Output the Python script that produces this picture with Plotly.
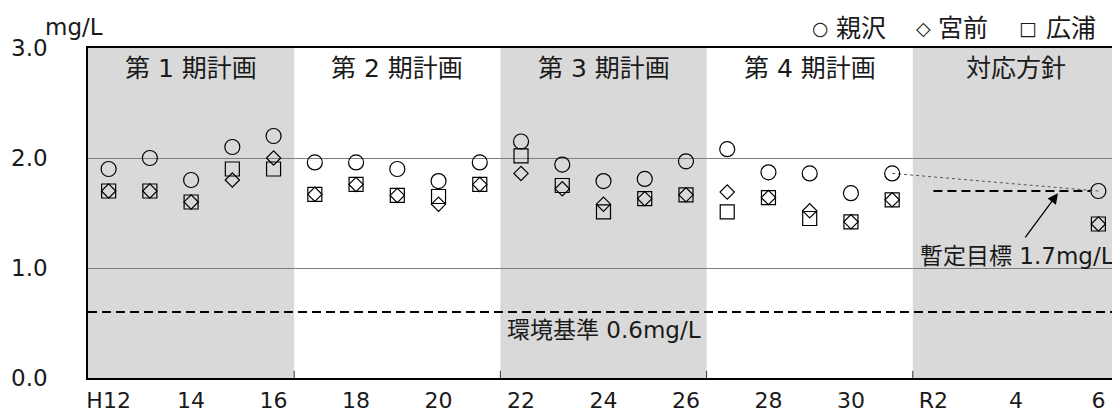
import plotly.graph_objects as go

# ---- data ----
years = [2000, 2001, 2002, 2003, 2004, 2005, 2006, 2007, 2008, 2009,
         2010, 2011, 2012, 2013, 2014, 2015, 2016, 2017, 2018, 2019, 2024]
oyazawa = [1.90, 2.00, 1.80, 2.10, 2.20, 1.96, 1.96, 1.90, 1.79, 1.96,
           2.15, 1.94, 1.79, 1.81, 1.97, 2.08, 1.87, 1.86, 1.68, 1.86, 1.70]
miyamae = [1.70, 1.70, 1.60, 1.80, 2.00, 1.67, 1.76, 1.66, 1.58, 1.76,
           1.86, 1.72, 1.58, 1.63, 1.665, 1.69, 1.64, 1.52, 1.42, 1.62, 1.40]
hiroura = [1.70, 1.70, 1.60, 1.90, 1.90, 1.67, 1.76, 1.66, 1.65, 1.76,
           2.02, 1.75, 1.51, 1.63, 1.665, 1.51, 1.64, 1.45, 1.42, 1.62, 1.40]

tick_years = [2000, 2002, 2004, 2006, 2008, 2010, 2012, 2014, 2016, 2018, 2020, 2022, 2024]
tick_labels = ["H12", "14", "16", "18", "20", "22", "24", "26", "28", "30", "R2", "4", "6"]

period_starts = [1999.5, 2004.5, 2009.5, 2014.5, 2019.5]
period_ends = [2004.5, 2009.5, 2014.5, 2019.5, 2024.5]
period_labels = ["第 1 期計画", "第 2 期計画", "第 3 期計画", "第 4 期計画", "対応方針"]
period_shaded = [True, False, True, False, True]

legend_symbols = ["○", "◇", "□"]
legend_names = ["親沢", "宮前", "広浦"]

env_standard = 0.6
target_value = 1.7
target_start = 2020.0
target_end = 2023.8

FONT = "Verdana, 'DejaVu Sans', 'Noto Sans CJK JP', sans-serif"
FS = 23
TXT = "#1a1a1a"

# page body has an 8px margin, so the figure is sized to fit the window
W, H = 1112, 408
ML, MR, MT, MB = 80, 1, 40, 38
PW = W - ML - MR
PH = H - MT - MB


def px_x(px):
    return (px - 8 - ML) / PW


def px_y(py):
    return 1 + (MT + 8 - py) / PH


fig = go.Figure()

# shaded periods and labels
for s, e, lab, sh in zip(period_starts, period_ends, period_labels, period_shaded):
    if sh:
        fig.add_shape(type="rect", xref="x", yref="y", x0=s, x1=e, y0=0, y1=3,
                      fillcolor="#d9d9d9", line_width=0, layer="below")
    fig.add_annotation(x=(s + e) / 2, y=2.81, text=lab, showarrow=False,
                       font=dict(size=25, color=TXT))

# boundary tick marks at the bottom
for e in period_ends[:-1]:
    fig.add_shape(type="line", xref="x", yref="y", x0=e, x1=e, y0=0, y1=0.065,
                  line=dict(color="#333", width=1))

# environmental standard line
fig.add_shape(type="line", xref="paper", yref="y", x0=0, x1=1,
              y0=env_standard, y1=env_standard,
              line=dict(color="black", width=2, dash="9px,5px"))
fig.add_annotation(x=2012, y=0.44, text="環境基準 0.6mg/L", showarrow=False,
                   font=dict(size=FS, color=TXT))

# target line
fig.add_shape(type="line", xref="x", yref="y", x0=target_start, x1=target_end,
              y0=target_value, y1=target_value,
              line=dict(color="black", width=2, dash="9px,5px"))

# dotted trend from last monitoring year to target year
fig.add_trace(go.Scatter(x=[years[-2], years[-1]], y=[oyazawa[-2], oyazawa[-1]],
                         mode="lines", line=dict(color="#555", width=1, dash="dot"),
                         showlegend=False, hoverinfo="skip"))

# series
fig.add_trace(go.Scatter(x=years, y=hiroura, mode="markers", name="広浦",
                         marker=dict(symbol="square-open", size=14, color="black",
                                     line=dict(width=1.2, color="black"))))
fig.add_trace(go.Scatter(x=years, y=miyamae, mode="markers", name="宮前",
                         marker=dict(symbol="diamond-open", size=11, color="black",
                                     line=dict(width=1.2, color="black"))))
fig.add_trace(go.Scatter(x=years, y=oyazawa, mode="markers", name="親沢",
                         marker=dict(symbol="circle-open", size=15, color="black",
                                     line=dict(width=1.2, color="black"))))

# target annotation with arrow
fig.add_annotation(x=2023.02, y=1.68, ax=2022.2, ay=1.265, axref="x", ayref="y",
                   xref="x", yref="y", text="", showarrow=True,
                   arrowhead=2, arrowsize=1.6, arrowwidth=1.3, arrowcolor="black")
fig.add_annotation(x=2022.02, y=1.11, text="暫定目標 1.7mg/L", showarrow=False,
                   font=dict(size=FS, color=TXT))

# unit
fig.add_annotation(xref="paper", yref="paper", x=px_x(43), y=px_y(27), xanchor="left",
                   yanchor="middle", text="mg/L", showarrow=False,
                   font=dict(size=FS, color=TXT))

# legend text
sym_px = [820, 923, 1028]
name_px = [861, 963, 1071]
for s, n, sx, nx in zip(legend_symbols, legend_names, sym_px, name_px):
    fig.add_annotation(xref="paper", yref="paper", x=px_x(sx), y=px_y(28),
                       xanchor="center", yanchor="middle", text=s, showarrow=False,
                       font=dict(size=19, color=TXT))
    fig.add_annotation(xref="paper", yref="paper", x=px_x(nx), y=px_y(28),
                       xanchor="center", yanchor="middle", text=n, showarrow=False,
                       font=dict(size=25, color=TXT))

fig.update_layout(
    width=W, height=H,
    margin=dict(l=ML, r=MR, t=MT, b=MB),
    paper_bgcolor="white", plot_bgcolor="white",
    font=dict(family=FONT, size=FS, color=TXT),
    showlegend=False,
    xaxis=dict(range=[1999.5, 2024.5], tickmode="array", tickvals=tick_years,
               ticktext=tick_labels, showgrid=False, zeroline=False,
               showline=True, linecolor="black", linewidth=1.5, mirror=True,
               ticks="", ticklabelstandoff=2, automargin=False, fixedrange=True,
               tickfont=dict(size=22)),
    yaxis=dict(range=[0, 3], tickmode="array", tickvals=[0, 1, 2, 3],
               ticktext=["0.0", "1.0", "2.0", "3.0"], showgrid=True,
               gridcolor="#7f7f7f", gridwidth=1, zeroline=False,
               showline=True, linecolor="black", linewidth=1.5, mirror=True,
               ticks="", ticklabelstandoff=34, automargin=False, fixedrange=True,
               tickfont=dict(size=FS)),
)

fig.write_html("out.html")
